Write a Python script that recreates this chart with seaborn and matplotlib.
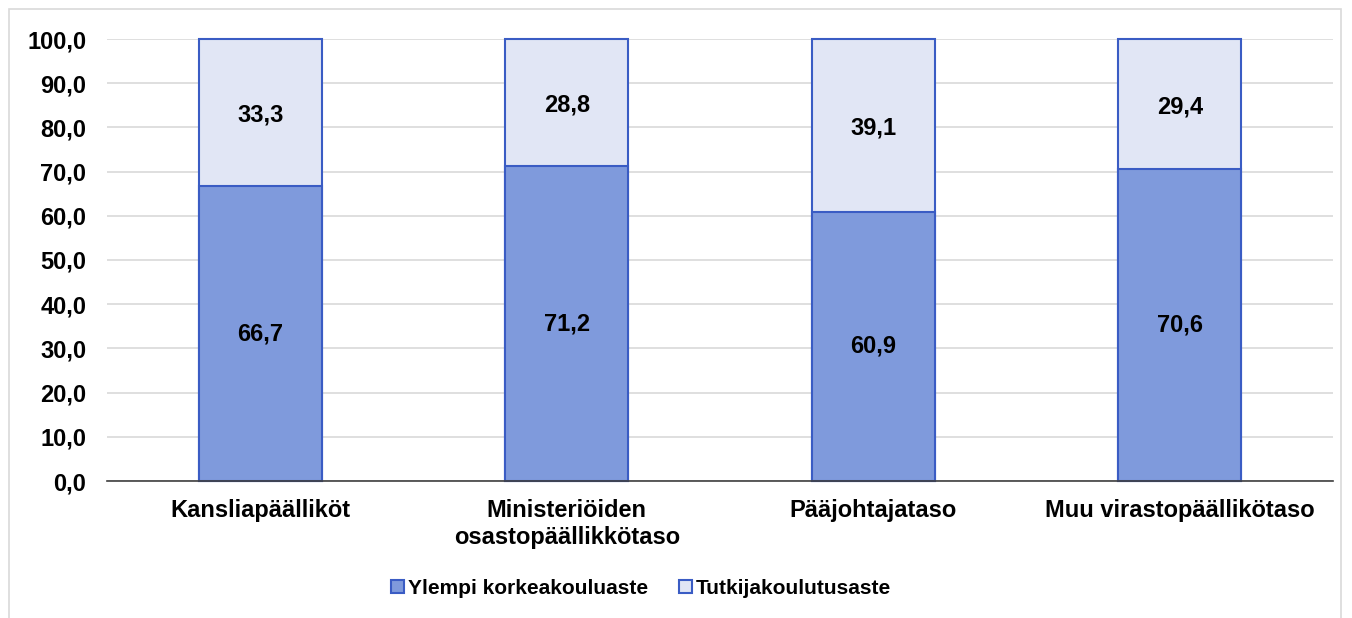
import matplotlib
matplotlib.use("Agg")
import matplotlib.pyplot as plt
import seaborn as sns
import pandas as pd
from matplotlib.patches import Rectangle, Patch

categories = ["Kansliapäälliköt", "Ministeriöiden\nosastopäällikkötaso", "Pääjohtajataso", "Muu virastopäällikötaso"]
ylempi = [66.7, 71.2, 60.9, 70.6]
tutkija = [33.3, 28.8, 39.1, 29.4]
series_names = ["Ylempi korkeakouluaste", "Tutkijakoulutusaste"]
yticks = [0, 10, 20, 30, 40, 50, 60, 70, 80, 90, 100]

sns.set_theme(style="white")
plt.rcParams['font.family'] = ['Liberation Sans', 'DejaVu Sans']
plt.rcParams['text.color'] = 'black'
plt.rcParams['xtick.color'] = 'black'
plt.rcParams['ytick.color'] = 'black'

c_bottom = "#7F9ADC"
c_top = "#E1E6F5"
c_edge = "#3A5CC4"
FS = 17

df = pd.DataFrame({"cat": categories, "ylempi": ylempi, "tutkija": tutkija})
df["total"] = df["ylempi"] + df["tutkija"]

W, H = 1352, 618
fig = plt.figure(figsize=(W / 100, H / 100), dpi=100)
fig.patches.append(Rectangle((9 / W, -0.1), (1341 - 9) / W, 1.1 - 9 / H, transform=fig.transFigure,
                             fill=False, edgecolor="#D9D9D9", linewidth=1.2))
ax = fig.add_axes([107 / W, 1 - 481 / H, (1333 - 107) / W, (481 - 39) / H])

sns.barplot(data=df, x="cat", y="total", color=c_top, edgecolor=c_edge, linewidth=1.5,
            width=0.4, ax=ax, saturation=1)
sns.barplot(data=df, x="cat", y="ylempi", color=c_bottom, edgecolor=c_edge, linewidth=1.5,
            width=0.4, ax=ax, saturation=1)
for p in ax.patches:
    p.set_clip_on(False)

for i, (b, t) in enumerate(zip(ylempi, tutkija)):
    ax.text(i, b / 2, f"{b:.1f}".replace(".", ","), ha="center", va="center",
            fontsize=FS, fontweight="bold", color="black")
    ax.text(i, b + t / 2 - 0.6, f"{t:.1f}".replace(".", ","), ha="center", va="center",
            fontsize=FS, fontweight="bold", color="black")

ax.set_ylim(0, 100)
ax.set_xlim(-0.5, len(categories) - 0.5)
ax.set_yticks(yticks)
ax.set_yticklabels([f"{v:.1f}".replace(".", ",") for v in yticks], fontsize=FS, fontweight="bold")
ax.set_xticks(range(len(categories)))
ax.set_xticklabels(categories, fontsize=FS, fontweight="bold", va="top", linespacing=1.2)
ax.tick_params(axis="y", length=0, pad=15)
ax.tick_params(axis="x", length=0, pad=13)
ax.set_xlabel("")
ax.set_ylabel("")
ax.yaxis.grid(True, color="#D9D9D9", linewidth=1.2)
ax.set_axisbelow(True)
for s in ["top", "right", "left"]:
    ax.spines[s].set_visible(False)
ax.spines["bottom"].set_color("#3F3F3F")
ax.spines["bottom"].set_linewidth(1.2)
ax.spines["bottom"].set_zorder(5)

handles = [Patch(facecolor=c_bottom, edgecolor=c_edge, linewidth=1.5),
           Patch(facecolor=c_top, edgecolor=c_edge, linewidth=1.5)]
fig.legend(handles, series_names, loc="center", bbox_to_anchor=(641 / W, 1 - 588 / H), ncol=2,
           frameon=False, prop={"size": 15, "weight": "bold"}, handlelength=0.6, handleheight=0.6,
           handletextpad=0.2, columnspacing=1.5)

fig.savefig("out.png", dpi=100)
